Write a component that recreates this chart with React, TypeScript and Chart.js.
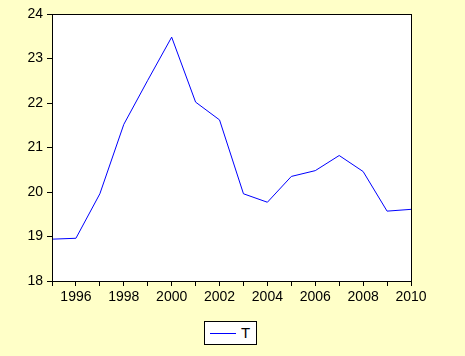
import React, { useEffect, useRef } from "react";
import { Chart, registerables } from "chart.js";

Chart.register(...registerables);

const years = [1995, 1996, 1997, 1998, 1999, 2000, 2001, 2002, 2003, 2004, 2005, 2006, 2007, 2008, 2009, 2010];
const seriesT = [18.94, 18.96, 19.96, 21.52, 22.51, 23.48, 22.02, 21.62, 19.96, 19.77, 20.35, 20.48, 20.82, 20.46, 19.57, 19.61];
const seriesName = "T";
const yMin = 18;
const yMax = 24;

const FONT = "'Liberation Sans', Arial, Helvetica, sans-serif";
const BG = "#FFFFC8";

export default function App() {
  const ref = useRef<HTMLCanvasElement | null>(null);

  useEffect(() => {
    if (!ref.current) return;
    const borderPlugin = {
      id: "plotBorder",
      beforeDraw(chart: any) {
        const { ctx, chartArea } = chart;
        ctx.save();
        ctx.fillStyle = "#FFFFFF";
        ctx.fillRect(chartArea.left, chartArea.top, chartArea.right - chartArea.left, chartArea.bottom - chartArea.top);
        ctx.restore();
      },
      afterDraw(chart: any) {
        const { ctx, chartArea } = chart;
        ctx.save();
        ctx.strokeStyle = "#000";
        ctx.lineWidth = 1;
        ctx.strokeRect(
          Math.round(chartArea.left) + 0.5,
          Math.round(chartArea.top) + 0.5,
          Math.round(chartArea.right - chartArea.left),
          Math.round(chartArea.bottom - chartArea.top)
        );
        ctx.restore();
      },
    };
    const chart = new Chart(ref.current, {
      type: "line",
      data: {
        datasets: [
          {
            label: seriesName,
            data: years.map((y, i) => ({ x: y, y: seriesT[i] })),
            borderColor: "#0000FF",
            borderWidth: 1,
            pointRadius: 0,
            tension: 0,
            fill: false,
          },
        ],
      },
      options: {
        responsive: false,
        animation: false,
        layout: { padding: { left: 0, top: 14, right: 54, bottom: 45 } },
        plugins: { legend: { display: false }, tooltip: { enabled: false } },
        scales: {
          x: {
            type: "linear",
            min: years[0],
            max: years[years.length - 1],
            afterFit: (s: any) => {
              s.height = 30;
            },
            ticks: {
              stepSize: 1,
              autoSkip: false,
              maxRotation: 0,
              padding: 3,
              color: "#000",
              font: { family: FONT, size: 14 },
              callback: (v: any) => (Number(v) % 2 === 0 ? String(v) : ""),
            },
            grid: { drawOnChartArea: false, drawTicks: true, tickLength: 5, color: "#000" },
            border: { display: true, color: "#000", width: 1 },
          },
          y: {
            min: yMin,
            max: yMax,
            afterFit: (s: any) => {
              s.width = 52;
            },
            ticks: {
              stepSize: 1,
              padding: 4,
              color: "#000",
              font: { family: FONT, size: 14 },
            },
            grid: { drawOnChartArea: false, drawTicks: true, tickLength: 5, color: "#000" },
            border: { display: true, color: "#000", width: 1 },
          },
        },
      },
      plugins: [borderPlugin],
    });
    return () => chart.destroy();
  }, []);

  return (
    <div style={{ position: "absolute", left: 0, top: 0, width: 465, height: 356, background: BG, overflow: "hidden" }}>
      <canvas ref={ref} width={465} height={356} style={{ position: "absolute", left: 0, top: 0, width: 465, height: 356 }} />
      <div
        style={{
          position: "absolute",
          left: 204,
          top: 321,
          width: 51,
          height: 22,
          border: "1px solid #000",
          background: "#fff",
        }}
      >
        <div style={{ position: "absolute", left: 5, top: 11, width: 26, height: 1, background: "#0000FF" }} />
        <div
          style={{
            position: "absolute",
            left: 36,
            top: 3,
            fontFamily: FONT,
            fontSize: 15,
            lineHeight: "16px",
            color: "#000",
          }}
        >
          {seriesName}
        </div>
      </div>
    </div>
  );
}
